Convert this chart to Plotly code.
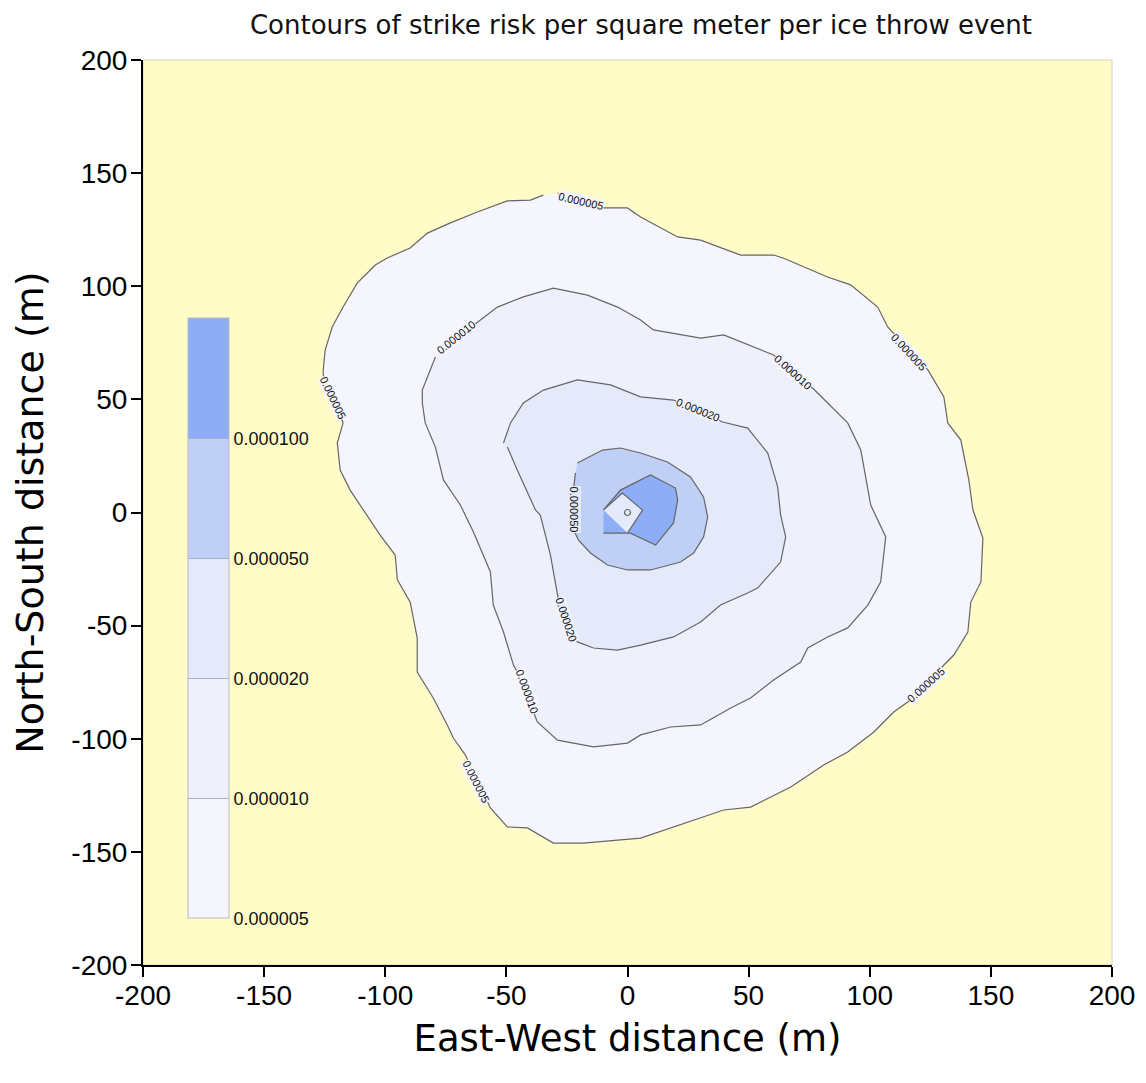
import plotly.graph_objects as go

# ---------------- data ----------------
level_labels = ["0.000005", "0.000010", "0.000020", "0.000050", "0.000100"]

# contour 0.000005 (outer boundary)
c5_x = [-28.9, -9.9, 0.0, 5.4, 20.7, 30.2, 46.7, 60.3, 64.5, 82.6, 92.1, 103.3, 107.4, 124.0,
        130.6, 132.2, 137.6, 140.9, 142.6, 146.7, 145.9, 141.7, 140.5, 134.7, 130.6, 115.7,
        109.9, 101.7, 90.9, 81.0, 67.4, 50.8, 39.7, 21.9, 5.4, -18.2, -30.6, -41.3, -49.6,
        -56.6, -66.9, -71.9, -74.4, -80.2, -86.8, -86.8, -89.7, -95.0, -95.9, -102.1, -110.3,
        -114.5, -118.6, -119.8, -117.4, -125.6, -125.6, -124.8, -121.9, -117.4, -111.6, -104.1,
        -99.2, -89.7, -82.6, -73.1, -62.0, -49.6, -40.1, -34.7]
c5_y = [141.2, 134.6, 134.6, 130.6, 121.8, 120.4, 113.8, 113.8, 112.4, 104.1, 100.6, 90.8, 82.0,
        63.0, 51.1, 39.6, 32.0, 14.4, 1.1, -11.3, -30.7, -39.6, -52.8, -63.0, -67.4, -83.8,
        -88.2, -97.0, -105.9, -111.6, -121.3, -130.2, -131.5, -138.1, -143.9, -146.1, -146.1,
        -139.4, -139.0, -130.6, -107.2, -99.7, -93.9, -82.0, -70.5, -55.5, -39.6, -29.8, -18.8,
        -10.0, 3.3, 9.9, 18.8, 30.7, 39.6, 60.8, 63.0, 71.8, 82.0, 90.8, 101.4, 109.4, 112.5,
        116.9, 123.5, 128.0, 132.8, 137.7, 138.1, 140.3]

# contour 0.000010
c10_x = [-78.1, -62.0, -53.7, -43.0, -30.6, -16.5, -4.1, 5.4, 10.7, 30.2, 39.7, 60.3, 76.4,
         90.9, 96.3, 100.4, 106.6, 104.5, 99.2, 90.9, 82.6, 74.4, 71.5, 60.3, 50.8, 42.6,
         30.2, 17.8, 5.4, 0.0, -14.0, -28.9, -37.2, -45.5, -47.1, -51.2, -55.4, -56.6, -63.6,
         -69.0, -76.0, -79.3, -83.5, -84.7, -84.7, -79.3]
c10_y = [70.9, 84.2, 90.8, 95.3, 99.2, 96.1, 90.8, 85.1, 80.7, 77.1, 78.5, 69.6, 55.0, 39.6,
         27.6, 3.3, -10.8, -30.7, -40.9, -51.0, -55.0, -59.9, -66.1, -74.0, -82.0, -86.4,
         -93.9, -94.8, -98.3, -101.9, -103.6, -100.6, -92.6, -70.5, -67.4, -52.8, -40.9,
         -26.3, -8.6, 3.3, 14.4, 28.9, 39.6, 48.4, 54.1, 68.7]

# contour 0.000020
c20_x = [-51.2, -48.3, -43.0, -34.7, -20.7, -7.0, 5.4, 19.0, 39.3, 49.6, 57.9, 62.0, 63.2,
         65.3, 63.2, 53.7, 49.6, 38.4, 30.2, 19.0, 5.4, -4.1, -14.0, -20.7, -28.5, -31.8,
         -36.0, -38.0, -45.5, -49.6]
c20_y = [30.7, 39.6, 48.4, 54.1, 58.6, 56.4, 51.1, 49.7, 40.0, 37.3, 26.3, 11.3, -1.1, -10.8,
         -21.9, -33.4, -35.6, -40.9, -48.4, -55.0, -58.6, -60.8, -59.9, -57.2, -38.7, -18.8,
         -1.1, 1.1, 18.8, 29.0]

# contour 0.000050
c50_x = [-20.7, -10.3, -2.9, 5.4, 16.5, 26.0, 31.4, 33.1, 31.4, 27.3, 21.9, 9.5, 0.0, -8.3,
         -15.3, -20.2, -22.3, -22.3, -21.5]
c50_y = [21.9, 27.6, 28.5, 26.3, 22.3, 15.7, 6.9, -2.0, -10.8, -17.9, -21.9, -25.4, -25.4,
         -23.2, -17.9, -12.2, -7.7, 9.9, 17.5]

# contour 0.000100
c100_x = [-9.9, -2.9, 9.5, 19.8, 20.7, 19.0, 11.6, 1.2, -9.9]
c100_y = [1.1, 9.9, 16.6, 10.8, 5.5, -4.6, -14.4, -9.1, -9.1]

# inner dip (diamond) and centre point
dip_x = [-9.9, -2.1, 6.2, 0.0]
dip_y = [1.1, 8.6, 1.1, -9.1]
centre_x = [0.0]
centre_y = [0.0]

# contour label positions
lab_x = [-19.4, -121.5, 116.1, 123.1, -62.4, -70.7, 68.2, -41.3, 29.3, -25.2, -21.9]
lab_y = [137.7, 50.6, 70.9, -76.2, -119.1, 77.6, 62.1, -79.3, 45.3, -47.5, 1.1]
lab_level = [0, 0, 0, 0, 0, 1, 1, 1, 2, 2, 3]
lab_angle = [13, 64, 47, -42, 63, -39, 42, 70, 22, 72, 90]

axis_ticks = [-200, -150, -100, -50, 0, 50, 100, 150, 200]
axis_tick_labels = ["-200", "-150", "-100", "-50", "0", "50", "100", "150", "200"]

# ---------------- styling ----------------
band_colors = ["#F4F5FD", "#EEF1FC", "#E4EAFA", "#BFCFF6", "#8DAEF6"]
bg_color = "#FFFCC8"
line_color = "#666666"
sans = "Liberation Sans, Arial, sans-serif"
wide = "DejaVu Sans, Verdana, sans-serif"

# the page body adds an 8 px offset; figure is sized so the plot area lands on the reference
W, H = 1130, 1067
OFF = 8

fig = go.Figure()

polys = [(c5_x, c5_y, band_colors[0]), (c10_x, c10_y, band_colors[1]),
         (c20_x, c20_y, band_colors[2]), (c50_x, c50_y, band_colors[3]),
         (c100_x, c100_y, band_colors[4]), (dip_x, dip_y, band_colors[2])]
for px, py, col in polys:
    fig.add_trace(go.Scatter(x=px, y=py, mode="lines", fill="toself", fillcolor=col,
                             line=dict(color=line_color, width=1.2), hoverinfo="skip",
                             showlegend=False))

fig.add_trace(go.Scatter(x=centre_x, y=centre_y, mode="markers",
                         marker=dict(size=6, color=band_colors[2],
                                     line=dict(color=line_color, width=1.2)),
                         hoverinfo="skip", showlegend=False))

# colour bar via a hidden marker trace
n = len(band_colors)
cscale = []
for i, c in enumerate(band_colors):
    cscale.append([i / n, c])
    cscale.append([(i + 1) / n, c])
fig.add_trace(go.Scatter(
    x=[None, None], y=[None, None], mode="markers", hoverinfo="skip", showlegend=False,
    marker=dict(color=[0, n], cmin=0, cmax=n, colorscale=cscale, showscale=True,
                colorbar=dict(x=0.0464, xanchor="left", y=0.383, yanchor="middle",
                              len=0.663, lenmode="fraction", thickness=41,
                              xpad=0, ypad=0, outlinecolor="#b8b8c8", outlinewidth=1,
                              tickvals=list(range(len(level_labels))),
                              ticktext=level_labels, ticks="inside", ticklen=41,
                              tickcolor="#a8b0c8", tickwidth=1,
                              tickfont=dict(family=sans, size=18, color="#111111"))),
))

# contour labels
for xv, yv, lv, ang in zip(lab_x, lab_y, lab_level, lab_angle):
    fig.add_annotation(x=xv, y=yv, text=level_labels[lv], showarrow=False,
                       textangle=ang, bgcolor=band_colors[max(lv - 1, 0)],
                       borderpad=0,
                       font=dict(family=sans, size=11, color="#111111"))

fig.add_shape(type="rect", xref="paper", yref="paper", x0=0, y0=0, x1=1, y1=1,
              line=dict(color="#d0d0d0", width=1), layer="below")

fig.update_layout(
    width=W, height=H,
    margin=dict(l=143 - OFF, r=W - (1112 - OFF), t=60 - OFF, b=H - (965 - OFF)),
    paper_bgcolor="white", plot_bgcolor=bg_color,
    title=dict(text="Contours of strike risk per square meter per ice throw event",
               x=(641 - OFF) / W, xanchor="center", y=1 - 17 / H, yanchor="middle",
               yref="container", xref="container",
               font=dict(family=wide, size=26, color="#111111")),
    xaxis=dict(range=[-200, 200], tickvals=axis_ticks, ticktext=axis_tick_labels,
               ticks="outside", ticklen=10, tickwidth=2, tickcolor="black",
               showline=True, linewidth=2, linecolor="black", showgrid=False, zeroline=False,
               tickfont=dict(family=sans, size=28, color="black"), automargin=False,
               ticklabelstandoff=-6,
               title=dict(text="East-West distance (m)", standoff=16,
                          font=dict(family=wide, size=37, color="black"))),
    yaxis=dict(range=[-200, 200], tickvals=axis_ticks, ticktext=axis_tick_labels,
               ticks="outside", ticklen=10, tickwidth=2, tickcolor="black",
               showline=True, linewidth=2, linecolor="black", showgrid=False, zeroline=False,
               tickfont=dict(family=sans, size=28, color="black"), automargin=False,
               ticklabelstandoff=-2,
               title=dict(text="North-South distance (m)", standoff=22,
                          font=dict(family=wide, size=38, color="black"))),
)

fig.write_html("out.html")
